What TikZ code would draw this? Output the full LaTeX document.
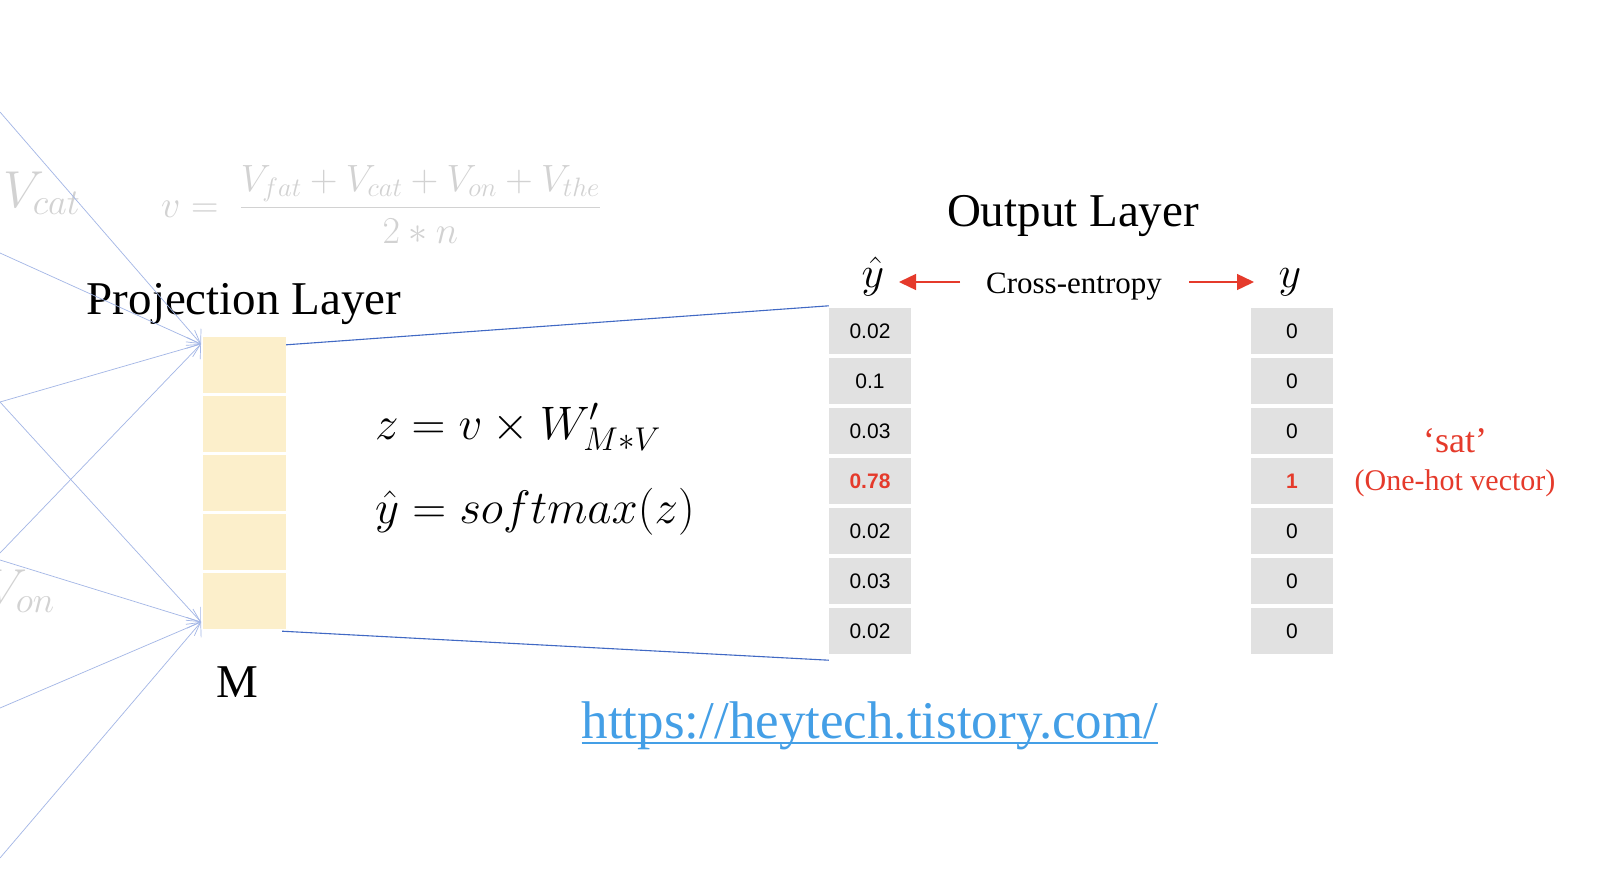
\documentclass[tikz,border=0pt]{standalone}
\usepackage{fix-cm}
\usepackage{fontspec}
\setmainfont{Liberation Serif}
\newfontfamily\cellfont{Liberation Sans}
\usetikzlibrary{arrows.meta}
\definecolor{projfill}{HTML}{FCEFCB}
\definecolor{cellgray}{HTML}{E1E1E1}
\definecolor{hotred}{HTML}{E53A2B}
\definecolor{linkblue}{HTML}{449FE6}
\definecolor{connblue}{HTML}{4169C4}
\definecolor{inblue}{HTML}{A3B6E6}
\definecolor{fadegray}{HTML}{D2D2D2}
\begin{document}
\begin{tikzpicture}[x=1pt,y=-1pt,
  projbox/.style={rectangle, fill=projfill, minimum width=83pt, minimum height=56pt, inner sep=0pt},
  cellbox/.style={rectangle, fill=cellgray, minimum width=82pt, minimum height=46pt, inner sep=0pt, font=\cellfont\fontsize{21}{25}\selectfont},
  hotcell/.style={cellbox, text=hotred, font=\cellfont\bfseries\fontsize{21}{25}\selectfont},
  title/.style={inner sep=0pt, anchor=base, font=\fontsize{47}{56}\selectfont},
  inarrow/.style={draw=inblue, line width=0.7pt, -{Straight Barb[length=11pt,width=20pt]}},
  conn/.style={draw=connblue, line width=1.1pt},
  xarrow/.style={draw=hotred, line width=1.4pt, -{Triangle[length=17pt,width=16pt]}},
  faded/.style={inner sep=0pt, text=fadegray, font=\fontsize{52}{60}\selectfont},
  eqn/.style={inner sep=0pt, anchor=base west, font=\fontsize{47}{56}\selectfont},
  hdr/.style={inner sep=0pt, anchor=base, font=\fontsize{44}{52}\selectfont},
  redtxt/.style={inner sep=0pt, anchor=base, text=hotred},
]
\fill[white] (0,0) rectangle (1612,884);
\useasboundingbox (0,0) rectangle (1612,884);

% faded background formulas
\node[faded, anchor=base west] (vcat) at (3,207) {$V_{cat}$};
\node[faded, anchor=base east] (von) at (55,605) {$V_{on}$};
\node[inner sep=0pt, anchor=base west, text=fadegray, font=\fontsize{38}{46}\selectfont] (vavg) at (161,217)
  {$v =\; {\displaystyle\frac{V_{fat}+V_{cat}+V_{on}+V_{the}}{2*n}}$};

% projection layer
\foreach \i/\yy in {1/365,2/424,3/483,4/542,5/601}
  \node[projbox] (p\i) at (244.5,\yy) {};
\node[title] (projlabel) at (244,314) {Projection Layer};
\node[title] (mlabel) at (237,697) {M};

% incoming arrows
\coordinate (A) at (201,344);
\coordinate (B) at (201,622);
\coordinate (s1) at (0,112);
\coordinate (s2) at (0,253);
\coordinate (s3) at (0,402);
\coordinate (s4) at (0,553);
\coordinate (s5) at (0,560);
\coordinate (s6) at (0,708);
\coordinate (s7) at (0,858);
\draw[inarrow] (s1) -- (A);
\draw[inarrow] (s2) -- (A);
\draw[inarrow] (s3) -- (A);
\draw[inarrow] (s4) -- (A);
\draw[inarrow] (s3) -- (B);
\draw[inarrow] (s5) -- (B);
\draw[inarrow] (s6) -- (B);
\draw[inarrow] (s7) -- (B);

% equations
\node[eqn] (eq1) at (375,439) {$z = v \times W'_{M*V}$};
\node[eqn] (eq2) at (375,523) {$\hat{y} = softmax(z)$};

% output layer
\node[title] (outlabel) at (1073,226) {Output Layer};
\foreach \i/\v in {1/0.02,2/0.1,3/0.03,5/0.02,6/0.03,7/0.02}
  \node[cellbox] (yh\i) at (870,{331+50*(\i-1)}) {\v};
\node[hotcell] (yh4) at (870,481) {0.78};
\foreach \i in {1,2,3,5,6,7}
  \node[cellbox] (yt\i) at (1292,{331+50*(\i-1)}) {0};
\node[hotcell] (yt4) at (1292,481) {1};

% headers
\node[hdr] (yhat) at (873,287) {$\hat{y}$};
\node[hdr] (ytrue) at (1290,287) {$y$};
\node[inner sep=0pt, anchor=base, font=\fontsize{31}{37}\selectfont] (ce) at (1074,293) {Cross-entropy};
\coordinate (ceL) at (960,282);
\coordinate (ceLt) at (899,282);
\coordinate (ceR) at (1189,282);
\coordinate (ceRt) at (1254,282);
\draw[xarrow] (ceL) -- (ceLt);
\draw[xarrow] (ceR) -- (ceRt);

% connectors projection -> output
\draw[conn] ([yshift=-8pt]p1.north east) -- ([yshift=2pt]yh1.north west);
\draw[conn] ([xshift=-4pt,yshift=-2pt]p5.south east) -- ([yshift=-6pt]yh7.south west);

% one-hot label
\node[redtxt, font=\fontsize{36}{42}\selectfont] (sat) at (1455,452) {‘sat’};
\node[redtxt, font=\fontsize{30}{36}\selectfont] (onehot) at (1455,490) {(One-hot vector)};

% url
\node[inner sep=0pt, anchor=base, text=linkblue, font=\fontsize{53}{60}\selectfont] (url) at (870,738) {https://heytech.tistory.com/};
\draw[linkblue, line width=2.5pt] ([yshift=-5pt]url.base west) -- ([yshift=-5pt]url.base east);
\end{tikzpicture}
\end{document}
